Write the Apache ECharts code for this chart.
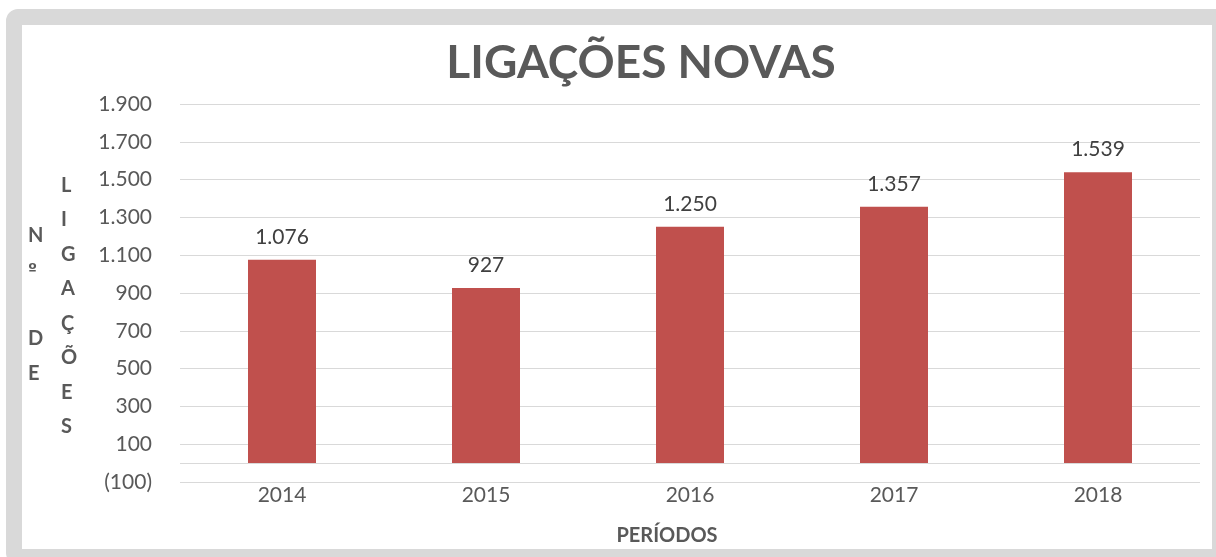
<!DOCTYPE html>
<html>
<head>
<meta charset="utf-8">
<title>Ligações Novas</title>
<script src="https://cdn.jsdelivr.net/npm/echarts@6/dist/echarts.min.js"></script>
<style>
  html, body { margin: 0; padding: 0; background: #fff; overflow: hidden; }
  .frame {
    position: absolute; left: 6px; top: 9px;
    width: 1190px; height: 524px;
    border: 16px solid #d9d9d9; border-radius: 12px;
    background: #fff;
  }
  #chart { position: absolute; left: 0; top: 0; width: 1216px; height: 557px; }
</style>
</head>
<body>
<div class="frame"></div>
<div id="chart"></div>
<script>
// dados do gráfico
const periodos = ["2014", "2015", "2016", "2017", "2018"];
const ligacoes = [1076, 927, 1250, 1357, 1539];
const eixoY = { min: -100, max: 1900, interval: 200 };

const FONT = "Lato";

// 1.076 / (100)
function fmt(v) {
  const s = Math.abs(v).toString().replace(/\B(?=(\d{3})+(?!\d))/g, ".");
  return v < 0 ? "(" + s + ")" : s;
}

const chart = echarts.init(document.getElementById("chart"));

const option = {
  backgroundColor: "transparent",
  title: {
    text: "LIGAÇÕES NOVAS",
    left: 636,
    textAlign: "center",
    top: 35,
    textStyle: { fontFamily: FONT, fontSize: 46, fontWeight: "bold", color: "#595959" },
  },
  grid: { left: 180, right: 16, top: 104, bottom: 75 },
  xAxis: {
    type: "category",
    data: periodos,
    axisLine: { show: false },
    axisTick: { show: false },
    axisLabel: { margin: 3, fontFamily: FONT, fontSize: 21, color: "#595959" },
    name: "PERÍODOS",
    nameLocation: "middle",
    nameGap: 44,
    nameTextStyle: { fontFamily: FONT, fontSize: 20, fontWeight: "bold", color: "#595959", padding: [0, 46, 0, 0] },
  },
  yAxis: {
    type: "value",
    min: eixoY.min,
    max: eixoY.max,
    interval: eixoY.interval,
    axisLine: { show: false },
    axisTick: { show: false },
    axisLabel: { margin: 28, fontFamily: FONT, fontSize: 21, color: "#595959", formatter: fmt },
    splitLine: { lineStyle: { color: "#d9d9d9", width: 1 } },
  },
  graphic: [
    {
      type: "text", left: 28, top: 218,
      style: {
        text: "N\n{o|º}\n\nD\nE",
        fontFamily: FONT, fontSize: 20, fontWeight: "bold", fill: "#595959", lineHeight: 34.5, align: "center",
        rich: { o: { fontFamily: "DejaVu Sans", fontSize: 16, fontWeight: "bold", color: "#595959", lineHeight: 34.5 } },
      },
    },
    {
      type: "text", left: 61, top: 168,
      style: { text: "L\nI\nG\nA\nÇ\nÕ\nE\nS", fontFamily: FONT, fontSize: 20, fontWeight: "bold", fill: "#595959", lineHeight: 34.5, align: "center" },
    },
  ],
  series: [
    {
      type: "bar",
      data: ligacoes,
      barWidth: 68,
      itemStyle: { color: "#c0504d" },
      label: {
        show: true, position: "top", distance: 12,
        fontFamily: FONT, fontSize: 21, color: "#404040",
        formatter: (p) => fmt(p.value),
      },
      markLine: {
        silent: true, symbol: "none", label: { show: false },
        lineStyle: { color: "#d9d9d9", width: 1, type: "solid" },
        data: [{ yAxis: 0 }],
      },
    },
  ],
};

chart.setOption(option);
</script>
</body>
</html>
